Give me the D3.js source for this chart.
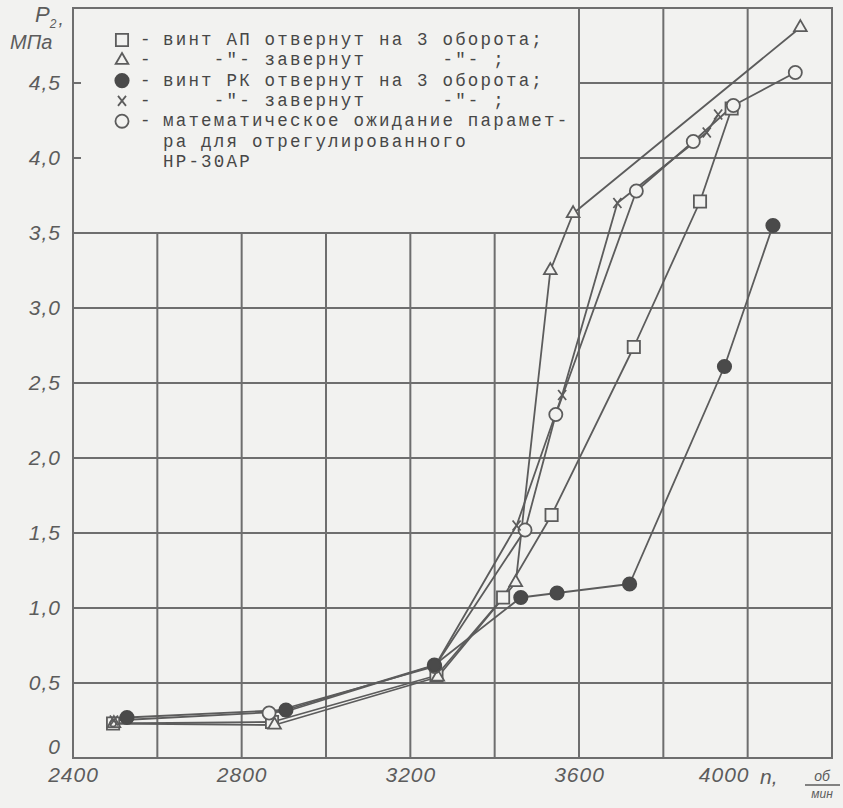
<!DOCTYPE html>
<html>
<head>
<meta charset="utf-8">
<script src="https://cdn.jsdelivr.net/npm/d3@7"></script>
<style>
    body { margin: 0; background: #f2f2f0; }
    svg { display: block; }
</style>
</head>
<body>
<svg id="chart" width="843" height="808"></svg>
<script>
// n, об/мин against P2, МПа
var xTickValues = [ 2400, 2800, 3200, 3600, 4000 ];
var xTickLabels = [ '2400', '2800', '3200', '3600', '4000' ];
var yTickValues = [ 0, 0.5, 1, 1.5, 2, 2.5, 3, 3.5, 4, 4.5 ];
var yTickLabels = [ '0', '0,5', '1,0', '1,5', '2,0', '2,5', '3,0', '3,5', '4,0', '4,5' ];
var xGridValues = [ 2600, 2800, 3000, 3200, 3400, 3600, 3800, 4000 ];
var yGridValues = [ 0.5, 1, 1.5, 2, 2.5, 3, 3.5, 4, 4.5 ];

// винт АП отвернут на 3 оборота
var seriesSquare = [ [ 2495, 0.23 ], [ 2872, 0.24 ], [ 3262, 0.55 ], [ 3420, 1.07 ], [ 3535, 1.62 ], [ 3730, 2.74 ], [ 3887, 3.71 ], [ 3962, 4.33 ] ];
// винт АП завернут на 3 оборота
var seriesTriangle = [ [ 2497, 0.23 ], [ 2878, 0.22 ], [ 3265, 0.54 ], [ 3450, 1.17 ], [ 3532, 3.25 ], [ 3586, 3.63 ], [ 4125, 4.87 ] ];
// винт РК отвернут на 3 оборота
var seriesFilled = [ [ 2528, 0.27 ], [ 2905, 0.32 ], [ 3257, 0.62 ], [ 3462, 1.07 ], [ 3548, 1.10 ], [ 3720, 1.16 ], [ 3945, 2.61 ], [ 4060, 3.55 ] ];
// винт РК завернут на 3 оборота
var seriesCross = [ [ 2497, 0.25 ], [ 2905, 0.31 ], [ 3260, 0.62 ], [ 3452, 1.55 ], [ 3560, 2.42 ], [ 3691, 3.70 ], [ 3903, 4.17 ], [ 3930, 4.29 ] ];
// математическое ожидание параметра для отрегулированного НР-30АР
var seriesCircle = [ [ 2865, 0.30 ], [ 3258, 0.61 ], [ 3472, 1.52 ], [ 3545, 2.29 ], [ 3736, 3.78 ], [ 3871, 4.11 ], [ 3966, 4.35 ], [ 4113, 4.57 ] ];

var legendMarks = [ 'square', 'triangle', 'filled', 'cross', 'circle', '', '' ];
var legendTexts = [
    'винт АП отвернут на 3 оборота;',
    '    -"- завернут      -"- ;',
    'винт РК отвернут на 3 оборота;',
    '    -"- завернут      -"- ;',
    'математическое ожидание парамет-',
    'ра для отрегулированного',
    'НР-30АР'
];

var ink = '#5c5c5c',
    gridInk = '#6e6e6e',
    paper = '#f2f2f0',
    drawFont = '"Liberation Sans", "DejaVu Sans", sans-serif',
    typeFont = '"Liberation Mono", "DejaVu Sans Mono", monospace';

var svg = d3.select( '#chart' );

var x = d3.scaleLinear()
    .domain( [ 2400, 4200 ] )
    .range( [ 73, 832 ] );
var y = d3.scaleLinear()
    .domain( [ 0, 5 ] )
    .range( [ 758, 8 ] );

// legend block sits over the top-left cells (2400..3600, 3.5..5.0)
var legendRight = 3600,
    legendBottom = 3.5;

var gridGrp = svg.append( 'g' )
    .attr( 'stroke', gridInk )
    .attr( 'stroke-width', 2 );

gridGrp.selectAll( '.vgrid' )
    .data( xGridValues )
    .enter()
    .append( 'line' )
    .attr( 'x1', function ( d ) { return x( d ); } )
    .attr( 'x2', function ( d ) { return x( d ); } )
    .attr( 'y1', y( 0 ) )
    .attr( 'y2', function ( d ) { return d < legendRight ? y( legendBottom ) : y( 5 ); } );

gridGrp.selectAll( '.hgrid' )
    .data( yGridValues )
    .enter()
    .append( 'line' )
    .attr( 'y1', function ( d ) { return y( d ); } )
    .attr( 'y2', function ( d ) { return y( d ); } )
    .attr( 'x1', function ( d ) { return d > legendBottom ? x( legendRight ) : x( 2400 ); } )
    .attr( 'x2', x( 4200 ) );

// frame
gridGrp.append( 'rect' )
    .attr( 'x', x( 2400 ) )
    .attr( 'y', y( 5 ) )
    .attr( 'width', x( 4200 ) - x( 2400 ) )
    .attr( 'height', y( 0 ) - y( 5 ) )
    .attr( 'fill', 'none' );

// small ticks on the left edge inside the legend area
gridGrp.selectAll( '.ltick' )
    .data( [ 4, 4.5 ] )
    .enter()
    .append( 'line' )
    .attr( 'x1', x( 2400 ) )
    .attr( 'x2', x( 2400 ) + 8 )
    .attr( 'y1', function ( d ) { return y( d ); } )
    .attr( 'y2', function ( d ) { return y( d ); } );

// axes: labels only, the grid draws the lines
var yAxis = d3.axisLeft( y )
    .tickValues( yTickValues )
    .tickFormat( function ( d, i ) { return yTickLabels[ i ]; } )
    .tickSize( 0 )
    .tickPadding( 12 );
var xAxis = d3.axisBottom( x )
    .tickValues( xTickValues )
    .tickFormat( function ( d, i ) { return xTickLabels[ i ]; } )
    .tickSize( 0 )
    .tickPadding( 9 );

var yAxisGrp = svg.append( 'g' )
    .attr( 'transform', 'translate(' + x( 2400 ) + ',0)' )
    .call( yAxis );
var xAxisGrp = svg.append( 'g' )
    .attr( 'transform', 'translate(0,' + y( 0 ) + ')' )
    .call( xAxis );

[ yAxisGrp, xAxisGrp ].forEach( function ( grp ) {
    grp.select( '.domain' ).remove();
    grp.attr( 'font-family', drawFont )
        .attr( 'font-size', 21 );
    grp.selectAll( 'text' )
        .attr( 'fill', ink )
        .attr( 'font-style', 'italic' )
        .attr( 'letter-spacing', 1 );
} );

yAxisGrp.selectAll( 'text' )
    .filter( function ( d ) { return d === 0; } )
    .attr( 'dy', '-0.2em' );
xAxisGrp.selectAll( 'text' )
    .filter( function ( d ) { return d === 4000; } )
    .attr( 'x', -24 );

// axis titles
var titleGrp = svg.append( 'g' )
    .attr( 'font-family', drawFont )
    .attr( 'font-style', 'italic' )
    .attr( 'fill', ink );
var pTitle = titleGrp.append( 'text' )
    .attr( 'x', 35 )
    .attr( 'y', 22 )
    .attr( 'font-size', 22 );
pTitle.append( 'tspan' )
    .text( 'P' );
pTitle.append( 'tspan' )
    .attr( 'dy', 6 )
    .attr( 'font-size', 12 )
    .text( '2' );
pTitle.append( 'tspan' )
    .attr( 'dy', -3 )
    .attr( 'dx', 2 )
    .attr( 'font-size', 19 )
    .text( ',' );
titleGrp.append( 'text' )
    .attr( 'x', 10 )
    .attr( 'y', 49 )
    .attr( 'font-size', 20 )
    .text( 'МПа' );

titleGrp.append( 'text' )
    .attr( 'x', 760 )
    .attr( 'y', 784 )
    .attr( 'font-size', 21 )
    .text( 'n,' );
titleGrp.append( 'text' )
    .attr( 'x', 822 )
    .attr( 'y', 781 )
    .attr( 'text-anchor', 'middle' )
    .attr( 'font-size', 14 )
    .text( 'об' );
titleGrp.append( 'line' )
    .attr( 'x1', 805 )
    .attr( 'x2', 840 )
    .attr( 'y1', 785 )
    .attr( 'y2', 785 )
    .attr( 'stroke', ink )
    .attr( 'stroke-width', 1.5 );
titleGrp.append( 'text' )
    .attr( 'x', 822 )
    .attr( 'y', 798 )
    .attr( 'text-anchor', 'middle' )
    .attr( 'font-size', 12 )
    .text( 'мин' );

// markers
var markerPath = function ( kind ) {
    if ( kind === 'square' ) {
        return d3.symbol( d3.symbolSquare, 150 )();
    }
    if ( kind === 'triangle' ) {
        return d3.symbol( d3.symbolTriangle, 70 )();
    }
    if ( kind === 'cross' ) {
        return 'M-4,-5L4,5M4,-5L-4,5';
    }
    return d3.symbol( d3.symbolCircle, kind === 'filled' ? 140 : 135 )();
};

var drawMarks = function ( grp, kind, cx, cy ) {
    grp.append( 'path' )
        .attr( 'transform', 'translate(' + cx + ',' + cy + ')' )
        .attr( 'd', markerPath( kind ) )
        .attr( 'fill', kind === 'filled' ? '#4a4a4a' : ( kind === 'cross' ? 'none' : paper ) )
        .attr( 'stroke', kind === 'filled' ? '#4a4a4a' : ink )
        .attr( 'stroke-width', 1.8 );
};

var line = d3.line()
    .x( function ( d ) { return x( d[ 0 ] ); } )
    .y( function ( d ) { return y( d[ 1 ] ); } );

var allSeries = [
    { kind: 'square', values: seriesSquare },
    { kind: 'triangle', values: seriesTriangle },
    { kind: 'circle', values: seriesCircle },
    { kind: 'cross', values: seriesCross },
    { kind: 'filled', values: seriesFilled }
];

var plotGrp = svg.append( 'g' );
allSeries.forEach( function ( s ) {
    plotGrp.append( 'path' )
        .attr( 'd', line( s.values ) )
        .attr( 'fill', 'none' )
        .attr( 'stroke', ink )
        .attr( 'stroke-width', 1.8 )
        .attr( 'stroke-linejoin', 'round' );
} );
allSeries.forEach( function ( s ) {
    s.values.forEach( function ( d ) {
        drawMarks( plotGrp, s.kind, x( d[ 0 ] ), y( d[ 1 ] ) );
    } );
} );
// the left-most square carries a small ring inside
plotGrp.append( 'circle' )
    .attr( 'cx', x( seriesSquare[ 0 ][ 0 ] ) )
    .attr( 'cy', y( seriesSquare[ 0 ][ 1 ] ) )
    .attr( 'r', 3 )
    .attr( 'fill', 'none' )
    .attr( 'stroke', ink )
    .attr( 'stroke-width', 1.5 );

// legend (typewritten, 12.7 px pitch)
var legendGrp = svg.append( 'g' )
    .attr( 'font-family', typeFont )
    .attr( 'font-size', 17.5 )
    .attr( 'letter-spacing', 2.2 )
    .attr( 'fill', '#474747' );
var rowY = function ( i ) { return 40 + i * 20.3; };

legendTexts.forEach( function ( t, i ) {
    if ( legendMarks[ i ] ) {
        drawMarks( legendGrp, legendMarks[ i ], 122, rowY( i ) );
        legendGrp.append( 'text' )
            .attr( 'x', 140 )
            .attr( 'y', rowY( i ) + 5 )
            .text( '-' );
    }
    legendGrp.append( 'text' )
        .attr( 'x', 163 )
        .attr( 'y', rowY( i ) + 5 )
        .style( 'white-space', 'pre' )
        .text( t );
} );
</script>
</body>
</html>
